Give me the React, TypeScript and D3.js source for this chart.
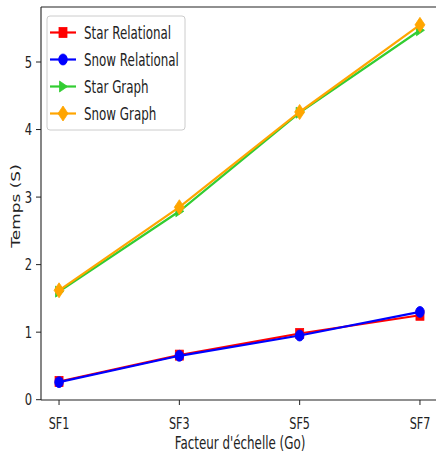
import React from "react";
import * as d3 from "d3";

const categories = ["SF1", "SF3", "SF5", "SF7"];
const starRelational = [0.27, 0.66, 0.98, 1.25];
const snowRelational = [0.26, 0.65, 0.95, 1.3];
const starGraph = [1.6, 2.79, 4.25, 5.47];
const snowGraph = [1.62, 2.85, 4.26, 5.55];
const yTicks = [0, 1, 2, 3, 4, 5];
const seriesNames = ["Star Relational", "Snow Relational", "Star Graph", "Snow Graph"];
const seriesColors = ["#ff0000", "#0000ff", "#32cd32", "#ffa500"];
const seriesMarkers = ["square", "circle", "triangle", "diamond"];
const seriesValues = [starRelational, snowRelational, starGraph, snowGraph];

const W = 436;
const H = 461;
const SX = 0.7;
const left = 41;
const right = 438;
const top = 7;
const bottom = 400;
const FONT = "DejaVu Sans";

function Marker({ kind, x, y, color }: { kind: string; x: number; y: number; color: string }) {
  if (kind === "square") {
    return <rect x={x - 4} y={y - 5} width={8} height={10} fill={color} stroke={color} strokeWidth={0.8} />;
  }
  if (kind === "circle") {
    return <ellipse cx={x} cy={y} rx={4.3} ry={5.5} fill={color} stroke={color} strokeWidth={0.8} />;
  }
  if (kind === "triangle") {
    return (
      <path
        d={`M${x + 4.5},${y} L${x - 3.5},${y - 5.5} L${x - 3.5},${y + 5.5} Z`}
        fill={color}
        stroke={color}
        strokeWidth={0.8}
      />
    );
  }
  return (
    <path
      d={`M${x},${y - 7.5} L${x + 5},${y} L${x},${y + 7.5} L${x - 5},${y} Z`}
      fill={color}
      stroke={color}
      strokeWidth={0.8}
    />
  );
}

export default function App() {
  const all = seriesValues.flat();
  const mn = d3.min(all)!;
  const mx = d3.max(all)!;
  const pad = (mx - mn) * 0.05;
  const y = d3.scaleLinear().domain([mn - pad, mx + pad]).range([bottom, top]);
  const x = d3
    .scaleLinear()
    .domain([-0.15, categories.length - 1 + 0.15])
    .range([left, right]);
  const line = d3
    .line<number>()
    .x((_, i) => x(i))
    .y((d) => y(d));

  return (
    <svg
      width={W}
      height={H}
      style={{ position: "absolute", left: 0, top: 0, background: "#fff" }}
      fontFamily={FONT}
    >
      <rect x={0} y={0} width={W} height={H} fill="#fff" />
      {/* series */}
      {seriesValues.map((vals, si) => (
        <g key={si}>
          <path d={line(vals)!} fill="none" stroke={seriesColors[si]} strokeWidth={2.2} />
          {vals.map((v, i) => (
            <Marker key={i} kind={seriesMarkers[si]} x={x(i)} y={y(v)} color={seriesColors[si]} />
          ))}
        </g>
      ))}
      {/* spines */}
      <line x1={left} x2={left} y1={top} y2={bottom} stroke="#222" strokeWidth={1.1} />
      <line x1={left} x2={W} y1={bottom} y2={bottom} stroke="#222" strokeWidth={1.1} />
      <line x1={left} x2={W} y1={top} y2={top} stroke="#222" strokeWidth={1.1} />
      {/* y ticks */}
      {yTicks.map((t) => (
        <g key={t}>
          <line x1={left - 5} x2={left} y1={y(t)} y2={y(t)} stroke="#222" strokeWidth={1} />
          <text
            transform={`translate(${left - 9},${y(t)}) scale(${SX},1)`}
            textAnchor="end"
            dominantBaseline="central"
            fontSize={16.5}
            fill="#222"
          >
            {t}
          </text>
        </g>
      ))}
      {/* x ticks */}
      {categories.map((c, i) => (
        <g key={c}>
          <line x1={x(i)} x2={x(i)} y1={bottom} y2={bottom + 5} stroke="#222" strokeWidth={1} />
          <text
            transform={`translate(${x(i)},${bottom + 29}) scale(${SX},1)`}
            textAnchor="middle"
            fontSize={16}
            fill="#222"
          >
            {c}
          </text>
        </g>
      ))}
      {/* axis labels */}
      <text
        transform={`translate(240,449) scale(${SX},1)`}
        textAnchor="middle"
        fontSize={17}
        fill="#222"
      >
        {"Facteur d'échelle (Go)"}
      </text>
      <text
        transform={`translate(20,206) scale(${SX},1) rotate(-90)`}
        textAnchor="middle"
        fontSize={17}
        fill="#222"
      >
        Temps (S)
      </text>
      {/* legend */}
      <rect
        x={47}
        y={16}
        width={138}
        height={114}
        rx={3}
        fill="#fff"
        fillOpacity={0.85}
        stroke="#cccccc"
        strokeWidth={1}
      />
      {seriesNames.map((n, si) => {
        const cy = 32.5 + si * 27;
        return (
          <g key={n}>
            <line x1={50} x2={76} y1={cy} y2={cy} stroke={seriesColors[si]} strokeWidth={2.2} />
            <Marker kind={seriesMarkers[si]} x={63} y={cy} color={seriesColors[si]} />
            <text
              transform={`translate(84,${cy}) scale(${SX},1)`}
              dominantBaseline="central"
              fontSize={17}
              fill="#222"
            >
              {n}
            </text>
          </g>
        );
      })}
    </svg>
  );
}
